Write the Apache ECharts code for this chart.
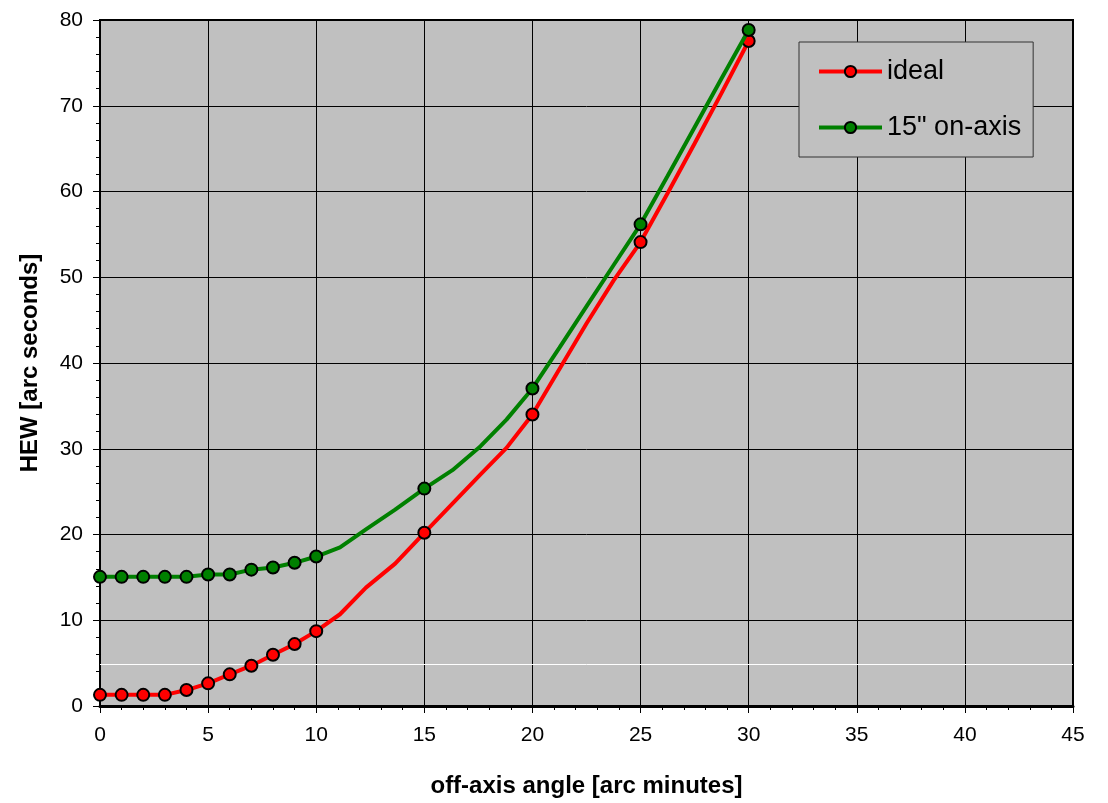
<!DOCTYPE html>
<html>
<head>
<meta charset="utf-8">
<script src="https://cdn.jsdelivr.net/npm/echarts@6/dist/echarts.min.js"></script>
<style>
html,body{margin:0;padding:0;background:#fff;}
#chart{width:1108px;height:803px;}
</style>
</head>
<body>
<div id="chart"></div>
<script>
// Points drawn with markers (off-axis angle, arc minutes)
const markerAngles = [0, 1, 2, 3, 4, 5, 6, 7, 8, 9, 10, 15, 20, 25, 30];
const idealMarkers = [1.3, 1.3, 1.3, 1.3, 1.86, 2.64, 3.69, 4.70, 5.98, 7.22, 8.73, 20.2, 34.0, 54.1, 77.55];
const onAxisMarkers = [15.06, 15.06, 15.06, 15.06, 15.06, 15.33, 15.33, 15.9, 16.15, 16.7, 17.43, 25.35, 37.03, 56.17, 78.84];

// Additional line points without markers
const curveAngles = [11.1, 12.3, 13.65, 16.3, 17.6, 18.8, 21.25, 22.5, 23.75, 26.25, 27.5, 28.75];
const idealCurve = [10.7, 13.8, 16.6, 23.6, 27.0, 30.1, 39.3, 44.6, 49.6, 59.8, 65.6, 71.5];
const onAxisCurve = [18.5, 20.6, 22.9, 27.5, 30.3, 33.4, 41.8, 46.6, 51.4, 61.8, 67.5, 73.2];

const xTicks = { min: 0, max: 45, interval: 5 };
const yTicks = { min: 0, max: 80, interval: 10 };
const whiteLineLevel = 4.9;

const seriesNames = ['ideal', '15" on-axis'];
const seriesColors = ['#ff0000', '#008000'];

function buildData(markers, curve) {
  const pts = [];
  markerAngles.forEach((x, i) => pts.push({ value: [x, markers[i]] }));
  curveAngles.forEach((x, i) => pts.push({ value: [x, curve[i]], symbol: 'none' }));
  pts.sort((a, b) => a.value[0] - b.value[0]);
  return pts;
}

const font = '"Liberation Sans", Arial, sans-serif';
const chart = echarts.init(document.getElementById('chart'), null, { renderer: 'canvas' });

function makeSeries(idx, markers, curve) {
  return {
    name: seriesNames[idx],
    type: 'line',
    smooth: false,
    data: buildData(markers, curve),
    symbol: 'circle',
    symbolSize: 12,
    showAllSymbol: true,
    lineStyle: { color: seriesColors[idx], width: 4 },
    itemStyle: { color: seriesColors[idx], borderColor: '#000', borderWidth: 2 },
    emphasis: { disabled: true },
    z: 3 + idx
  };
}

const sIdeal = makeSeries(0, idealMarkers, idealCurve);
sIdeal.markLine = {
  silent: true,
  symbol: ['none', 'none'],
  label: { show: false },
  lineStyle: { color: '#ffffff', width: 1, type: 'solid' },
  data: [{ yAxis: whiteLineLevel }],
  z: 1
};
const sOnAxis = makeSeries(1, onAxisMarkers, onAxisCurve);

chart.setOption({
  animation: false,
  backgroundColor: '#ffffff',
  grid: {
    left: 100, right: 35, top: 20, bottom: 96,
    show: true,
    backgroundColor: '#c0c0c0',
    borderColor: '#000',
    borderWidth: 2
  },
  legend: {
    show: true,
    orient: 'vertical',
    left: 799,
    top: 42,
    backgroundColor: '#c0c0c0',
    borderColor: '#333',
    borderWidth: 1,
    borderRadius: 0,
    padding: [16, 12, 16, 18],
    itemGap: 29,
    itemWidth: 63,
    itemHeight: 14,
    lineStyle: { width: 4 },
    itemStyle: { borderColor: '#000', borderWidth: 2 },
    textStyle: { fontFamily: font, fontSize: 27, color: '#000', lineHeight: 27 },
    data: seriesNames
  },
  xAxis: {
    type: 'value',
    min: xTicks.min, max: xTicks.max, interval: xTicks.interval,
    name: 'off-axis angle [arc minutes]',
    nameLocation: 'middle',
    nameGap: 68,
    nameTextStyle: { fontFamily: font, fontSize: 24, fontWeight: 'bold', color: '#000' },
    axisLine: { show: true, onZero: false, lineStyle: { color: '#000', width: 3 } },
    axisTick: { show: true, inside: false, length: 7, lineStyle: { color: '#000', width: 1 } },
    minorTick: { show: true, splitNumber: 5, length: 4, lineStyle: { color: '#000', width: 1 } },
    axisLabel: { fontFamily: font, fontSize: 21, color: '#000', margin: 19 },
    splitLine: { show: true, lineStyle: { color: '#000', width: 1 } }
  },
  yAxis: {
    type: 'value',
    min: yTicks.min, max: yTicks.max, interval: yTicks.interval,
    name: 'HEW [arc seconds]',
    nameLocation: 'middle',
    nameGap: 58,
    nameTextStyle: { fontFamily: font, fontSize: 24, fontWeight: 'bold', color: '#000' },
    axisLine: { show: true, onZero: false, lineStyle: { color: '#000', width: 2 } },
    axisTick: { show: true, inside: false, length: 7, lineStyle: { color: '#000', width: 1 } },
    minorTick: { show: true, splitNumber: 5, length: 4, lineStyle: { color: '#000', width: 1 } },
    axisLabel: { fontFamily: font, fontSize: 21, color: '#000', margin: 17 },
    splitLine: { show: true, lineStyle: { color: '#000', width: 1 } }
  },
  series: [sIdeal, sOnAxis]
});
</script>
</body>
</html>
